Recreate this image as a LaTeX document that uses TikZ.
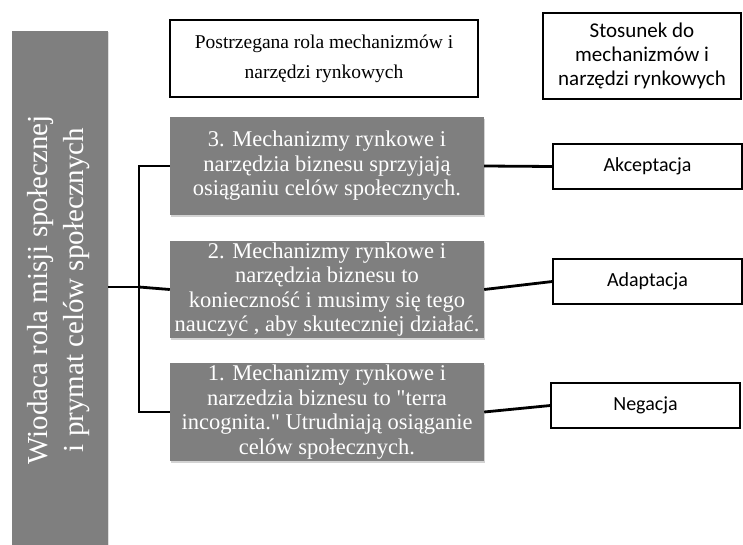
\documentclass[tikz,border=0pt]{standalone}
\usepackage{fontspec}
\setmainfont{Liberation Serif}
\newfontfamily\calib{Carlito}
\font\qqf="Liberation Serif" at 22.5bp
\usetikzlibrary{shadows}
\definecolor{boxgray}{HTML}{7F7F7F}
\tikzset{
  graybox/.style={fill=boxgray, draw=none, text=white, align=center,
    minimum width=314bp, minimum height=98bp, inner sep=0pt,
    font=\fontsize{22.5bp}{24.5bp}\selectfont,
    drop shadow={shadow xshift=1bp, shadow yshift=-2bp, opacity=0.35}},
  answerbox/.style={draw=black, line width=1.2bp, fill=white, align=center,
    inner sep=0pt, minimum width=189bp, minimum height=45bp,
    font=\calib\fontsize{20bp}{24bp}\selectfont},
  headbox/.style={draw=black, line width=1.2bp, align=center, inner sep=0pt},
  link/.style={line width=2.8bp, black}
}
\begin{document}
\begin{tikzpicture}[x=1bp,y=-1bp]
\useasboundingbox (0,0) rectangle (743,545);
% left bar
\fill[boxgray, drop shadow={shadow xshift=1bp, shadow yshift=-1bp, opacity=0.25}] (12,31) rectangle (108,545);
\node[text=white, rotate=90, align=center, font=\fontsize{29bp}{36bp}\selectfont] (lefttext) at (59,290)
  {Wiodaca rola misji społecznej\\i prymat celów społecznych};
\coordinate (leftedge) at (108,287);
% headers
\node[headbox, minimum width=308bp, minimum height=77bp, font=\fontsize{19.5bp}{30bp}\selectfont] (h1) at (324,58.5)
  {Postrzegana rola mechanizmów i\\narzędzi rynkowych};
\node[headbox, minimum width=198bp, minimum height=86bp, font=\calib\fontsize{21bp}{24bp}\selectfont] (h2) at (642,56)
  {Stosunek do\\mechanizmów i\\narzędzi rynkowych};
% gray boxes
\node[graybox] (b3) at (327,166)
  {3. Mechanizmy rynkowe i\\narzędzia biznesu sprzyjają\\osiąganiu celów społecznych.};
\node[graybox, minimum height=97bp] (b2) at (327,289.5)
  {2. Mechanizmy rynkowe i\\narzędzia biznesu to\\konieczność i musimy się tego\\nauczyć , aby skuteczniej działać.};
\node[graybox] (b1) at (327,412)
  {1. Mechanizmy rynkowe i\\narzedzia biznesu to {\qqf"}terra\\incognita.{\qqf"} Utrudniają osiąganie\\celów społecznych.};
% answers
\node[answerbox] (a3) at (647.5,166.5) {Akceptacja};
\node[answerbox] (a2) at (647.5,281.5) {Adaptacja};
\node[answerbox] (a1) at (645.5,405.5) {Negacja};
% connectors
\coordinate (fork) at (139,287);
\draw[link] (leftedge) -- (fork);
\draw[link, line join=miter] (b3.west) -| (fork) |- (b1.west);
\draw[link] (fork) -- (b2.west);
\draw[link] (b3.east) -- (a3.west);
\draw[link] (b2.east) -- (a2.west);
\draw[link] (b1.east) -- (a1.west);
\end{tikzpicture}
\end{document}
